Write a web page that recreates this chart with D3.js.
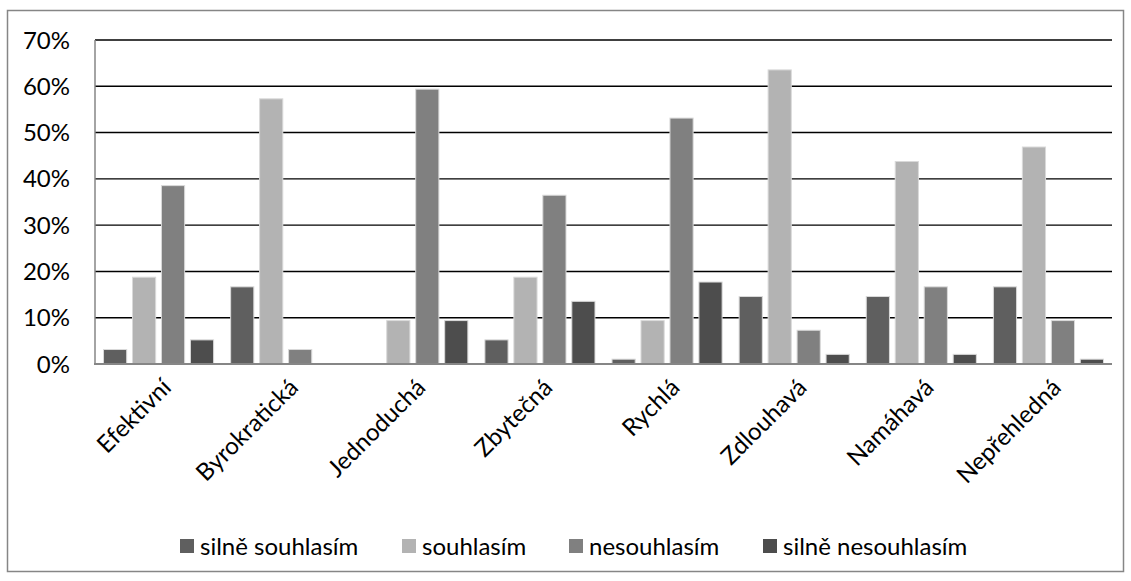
<!DOCTYPE html>
<html><head><meta charset="utf-8">
<script src="https://cdn.jsdelivr.net/npm/d3@7"></script>
<style>body{margin:0;background:#fff;} svg{display:block;}</style>
</head><body>
<svg id="chart" width="1131" height="581"></svg>
<script>
const categories = ["Efektivní","Byrokratická","Jednoduchá","Zbytečná","Rychlá","Zdlouhavá","Namáhavá","Nepřehledná"];
const seriesNames = ["silně souhlasím","souhlasím","nesouhlasím","silně nesouhlasím"];
const silneSouhlasim   = [3.13, 16.67, 0,     5.21,  1.04, 14.58, 14.58, 16.67];
const souhlasim        = [18.75, 57.29, 9.38, 18.75, 9.38, 63.54, 43.75, 46.88];
const nesouhlasim      = [38.54, 3.13, 59.38, 36.46, 53.13, 7.29, 16.67, 9.38];
const silneNesouhlasim = [5.21, 0,     9.38, 13.54, 17.71, 2.08, 2.08, 1.04];
const yTicks = [0,10,20,30,40,50,60,70];
const colors = ["#5f5f5f","#b3b3b3","#808080","#4d4d4d"];

const values = [silneSouhlasim, souhlasim, nesouhlasim, silneNesouhlasim];
const svg = d3.select("#chart");
const font = "Lato, 'Open Sans', sans-serif";
const fs = 24;

svg.append("rect").attr("x",7.5).attr("y",10.5).attr("width",1116).attr("height",561)
  .attr("fill","#fff").attr("stroke","#868686").attr("stroke-width",1.5);

const x0 = d3.scaleBand().domain(categories).range([95,1112]).padding(0);
const bw = x0.bandwidth();
const x1 = d3.scaleBand().domain(d3.range(4)).range([bw*0.067, bw*0.933]).paddingInner(0.2).paddingOuter(0);
const y = d3.scaleLinear().domain([0,70]).range([364,40]);

// gridlines
svg.append("g").selectAll("line").data(yTicks.filter(t=>t>0)).join("line")
  .attr("x1",95).attr("x2",1112).attr("y1",d=>y(d)).attr("y2",d=>y(d))
  .attr("stroke","#000").attr("stroke-width",1.4);

// y labels
svg.append("g").selectAll("text").data(yTicks).join("text")
  .attr("x",70).attr("y",d=>y(d)).attr("dy","0.36em").attr("text-anchor","end")
  .attr("font-family",font).attr("font-size",fs).attr("fill","#000")
  .text(d=>d+"%");

// bars
const g = svg.append("g");
categories.forEach((c,i)=>{
  values.forEach((arr,s)=>{
    if(arr[i]<=0) return;
    g.append("rect")
      .attr("x", x0(c)+x1(s)).attr("width", x1.bandwidth())
      .attr("y", y(arr[i])).attr("height", y(0)-y(arr[i]))
      .attr("fill", colors[s]).attr("stroke","#d9d9d9").attr("stroke-width",1);
  });
});

// axes lines
svg.append("line").attr("x1",95).attr("x2",95).attr("y1",40).attr("y2",364)
  .attr("stroke","#868686").attr("stroke-width",1.5);
svg.append("line").attr("x1",94).attr("x2",1112).attr("y1",364).attr("y2",364)
  .attr("stroke","#868686").attr("stroke-width",2);

// x labels
svg.append("g").selectAll("text").data(categories).join("text")
  .attr("transform",d=>`translate(${x0(d)+bw/2+14},${389}) rotate(-45)`)
  .attr("text-anchor","end").attr("font-family",font).attr("font-size",fs)
  .text(d=>d);

// legend
const legendX = [180, 402, 569, 763];
const lg = svg.append("g");
seriesNames.forEach((n,s)=>{
  lg.append("rect").attr("x",legendX[s]).attr("y",539).attr("width",14).attr("height",14).attr("fill",colors[s]);
  lg.append("text").attr("x",legendX[s]+20).attr("y",546).attr("dy","0.36em")
    .attr("font-family",font).attr("font-size",fs).text(n);
});
</script>
</body></html>
